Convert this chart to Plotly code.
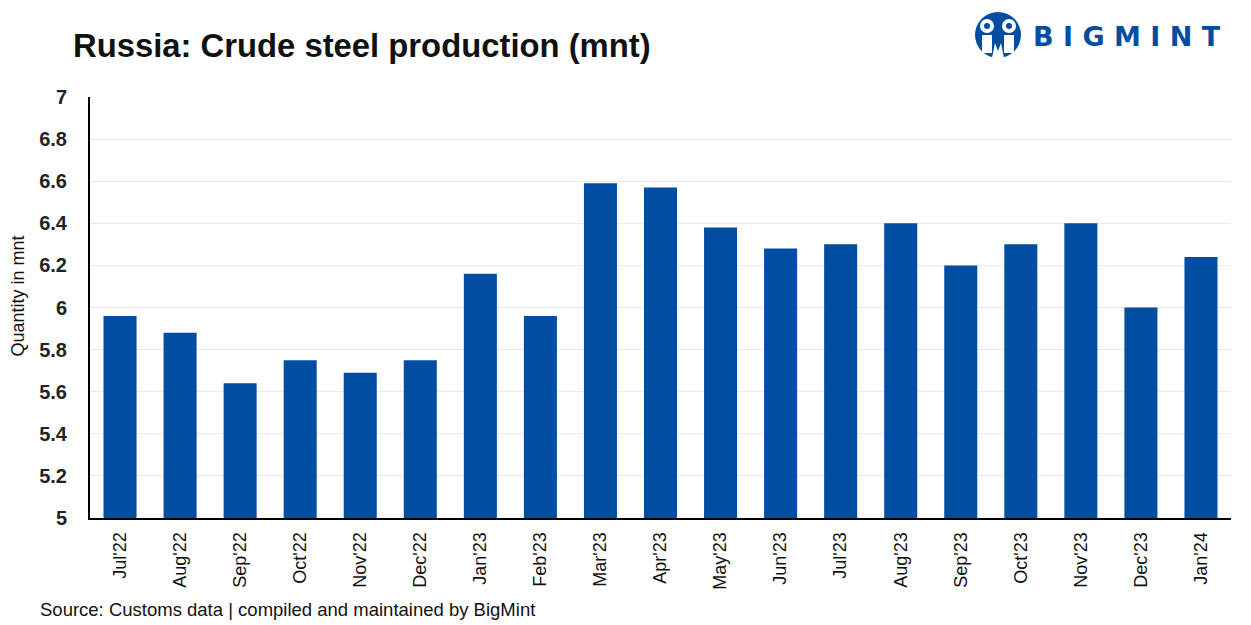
import plotly.graph_objects as go

months = ["Jul'22", "Aug'22", "Sep'22", "Oct'22", "Nov'22", "Dec'22", "Jan'23", "Feb'23",
          "Mar'23", "Apr'23", "May'23", "Jun'23", "Jul'23", "Aug'23", "Sep'23", "Oct'23",
          "Nov'23", "Dec'23", "Jan'24"]
production = [5.96, 5.88, 5.64, 5.75, 5.69, 5.75, 6.16, 5.96, 6.59, 6.57, 6.38, 6.28,
              6.30, 6.40, 6.20, 6.30, 6.40, 6.00, 6.24]
y_ticks = [5, 5.2, 5.4, 5.6, 5.8, 6, 6.2, 6.4, 6.6, 6.8, 7]

BLUE = "#004da1"
FONT = "Liberation Sans"

fig = go.Figure(go.Bar(x=months, y=production, marker_color=BLUE, marker_line_width=0,
                       hoverinfo="x+y"))

fig.update_layout(
    width=1251, height=625,
    margin=dict(l=82, r=28, t=89, b=115, autoexpand=False),
    paper_bgcolor="white", plot_bgcolor="white",
    bargap=0.45,
    font=dict(family=FONT, color="#111"),
    showlegend=False,
)
fig.update_yaxes(range=[5, 7], tickvals=y_ticks, ticktext=[f"<b>{v:g}</b>" for v in y_ticks],
                 tickfont=dict(size=20, family=FONT, color="#222"),
                 showgrid=True, gridcolor="#e9e9e9", gridwidth=1,
                 showline=True, linecolor="black", linewidth=2, zeroline=False,
                 ticks="", ticklabelstandoff=17, automargin=False)
fig.update_xaxes(tickangle=-90, tickfont=dict(size=18, family=FONT, color="#111"),
                 showline=True, linecolor="black", linewidth=2, ticks="", showgrid=False,
                 ticklabelstandoff=5, automargin=False)

fig.add_annotation(text="Quantity in mnt", xref="paper", yref="paper", x=0, y=0.5,
                   xanchor="center", yanchor="middle", xshift=-73, yshift=11, textangle=-90,
                   showarrow=False, font=dict(size=18, family=FONT, color="#111"))
fig.add_annotation(text="<b>Russia: Crude steel production (mnt)</b>", xref="paper", yref="paper",
                   x=0, y=1.0, xanchor="left", yanchor="middle", yshift=52,
                   xshift=-19, showarrow=False, font=dict(size=32.8, family=FONT, color="#111"))
fig.add_annotation(text="Source: Customs data | compiled and maintained by BigMint",
                   xref="paper", yref="paper", x=0, y=0, xanchor="left", yanchor="middle",
                   xshift=-52, yshift=-91, showarrow=False,
                   font=dict(size=18.5, family=FONT, color="#111"))

# Logo
lx = (998 - 90) / 1141
ly = 1 + (97 - 35) / 421
fig.add_shape(type="circle", xref="paper", yref="paper", xsizemode="pixel", ysizemode="pixel",
              xanchor=lx, yanchor=ly, x0=-23, x1=23, y0=-23, y1=23, fillcolor=BLUE, line_width=0)
for dx in (-11, 11):
    fig.add_shape(type="circle", xref="paper", yref="paper", xsizemode="pixel", ysizemode="pixel",
                  xanchor=lx, yanchor=ly, x0=dx - 7, x1=dx + 7, y0=2, y1=16, fillcolor="white",
                  line_width=0)
    fig.add_shape(type="circle", xref="paper", yref="paper", xsizemode="pixel", ysizemode="pixel",
                  xanchor=lx, yanchor=ly, x0=dx - 3, x1=dx + 3, y0=6, y1=12, fillcolor=BLUE,
                  line_width=0)
    fig.add_shape(type="rect", xref="paper", yref="paper", xsizemode="pixel", ysizemode="pixel",
                  xanchor=lx, yanchor=ly, x0=dx - 5, x1=dx + 5, y0=-18, y1=0,
                  fillcolor="white", line_width=0)
fig.add_shape(type="path", xref="paper", yref="paper", xsizemode="pixel", ysizemode="pixel",
              xanchor=lx, yanchor=ly,
              path="M -6,-23 L -3,-8 L 0,-16 L 3,-8 L 6,-23 Z", fillcolor="white", line_width=0)
fig.add_annotation(text="<b>B I G M I N T</b>", xref="paper", yref="paper",
                   x=(1031 - 90) / 1141, y=1 + (97 - 37) / 421, xanchor="left", yanchor="middle",
                   showarrow=False, font=dict(size=27, family="DejaVu Sans", color=BLUE))

fig.write_html("out.html")
